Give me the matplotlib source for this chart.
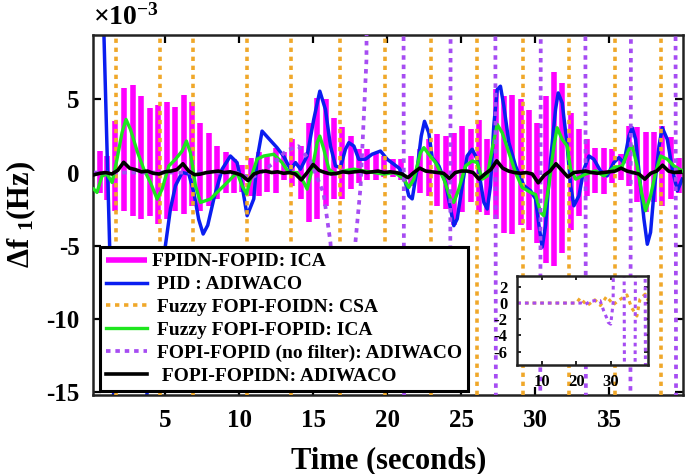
import numpy as np
import matplotlib
matplotlib.use("Agg")
import matplotlib.pyplot as plt
from matplotlib.ticker import FuncFormatter

plt.rcParams.update({
    "font.family": ["Liberation Serif", "DejaVu Serif"],
    "font.weight": "bold",
    "axes.labelweight": "bold",
    "mathtext.fontset": "custom",
    "mathtext.rm": "Liberation Serif:bold",
    "mathtext.it": "Liberation Serif:italic:bold",
    "mathtext.bf": "Liberation Serif:bold",
    "axes.unicode_minus": False,
})

SCALE = 1e-3  # values below are in units of 1e-3 Hz

# ---- FPIDN-FOPID: ICA (fast oscillation, drawn as bars: time, upper, lower) ----
mag_t = [0.58, 1.08, 1.64, 2.21, 2.81, 3.38, 3.96, 4.53, 5.13, 5.70,
         6.26, 6.82, 7.39, 7.95, 8.51, 9.08, 9.64, 10.20, 10.77, 11.33,
         11.90, 12.46, 13.02, 13.59, 14.15, 14.72, 15.28, 15.85, 16.41, 16.98,
         17.54, 18.11, 18.67, 19.24, 19.80, 20.37, 20.93, 21.59, 22.25, 22.81,
         23.38, 23.94, 24.50, 25.07, 25.63, 26.19, 26.76, 27.32, 27.88, 28.44,
         29.01, 29.57, 30.13, 30.70, 31.26, 31.82, 32.39, 32.95, 33.51, 34.07,
         34.64, 35.20, 35.77, 36.33, 36.89, 37.45, 38.02, 38.58, 39.14, 39.71]
mag_hi = [1.5, 1.1, 3.5, 5.8, 6.0, 5.2, 4.4, 4.6, 4.8, 4.5,
          5.3, 4.8, 3.4, 2.7, 1.8, 1.4, 0.9, 0.5, 1.0, 1.4,
          1.1, 1.7, 1.4, 2.3, 1.8, 3.4, 5.1, 5.0, 3.7, 3.1,
          2.5, 1.6, 1.6, 1.4, 1.1, 0.9, 0.9, 1.1, 1.6, 2.3,
          2.6, 2.5, 2.7, 3.2, 3.0, 3.6, 2.3, 5.7, 5.2, 5.3,
          5.0, 4.3, 3.4, 5.2, 6.9, 6.1, 4.1, 3.0, 2.3, 1.7,
          1.7, 1.6, 1.3, 3.2, 3.1, 2.8, 2.8, 3.2, 2.4, 1.0]
mag_lo = [-1.4, -1.9, -2.6, -2.6, -3.0, -3.2, -3.0, -3.5, -3.2, -2.6,
          -2.8, -2.3, -2.6, -2.3, -1.8, -1.4, -1.4, -1.3, -1.6, -1.6,
          -1.3, -1.4, -0.5, -0.9, -1.8, -3.4, -3.2, -2.3, -1.8, -1.8,
          -1.1, -0.7, -0.5, -0.5, -0.3, -0.3, -0.5, -0.9, -1.4, -1.6,
          -2.3, -2.5, -3.6, -2.7, -2.0, -2.7, -2.9, -3.2, -4.1, -4.2,
          -3.6, -3.9, -4.8, -6.2, -6.4, -5.5, -3.9, -3.0, -1.6, -1.4,
          -1.5, -0.7, -0.5, -0.9, -2.0, -2.7, -2.0, -2.3, -1.8, -1.4]

# ---- PID : ADIWACO ----
blue_t = [0.15, 0.8, 1.6, 3.3, 5.02, 5.36, 5.70, 6.15, 6.6, 6.94,
          7.27, 7.57, 7.88, 8.29, 8.85, 9.41, 9.86, 10.2, 10.54, 10.99,
          11.21, 11.55, 12.11, 12.56, 13.02, 13.47, 13.81, 14.14, 14.59, 15.04,
          15.45, 15.83, 16.17, 16.51, 16.84, 17.18, 17.41, 17.75, 18.08, 18.53,
          18.98, 19.55, 20.0, 20.45, 20.8, 21.12, 21.46, 21.69, 22.02, 22.3,
          22.52, 22.81, 23.04, 23.49, 23.94, 24.28, 24.5, 24.73, 25.07, 25.4,
          25.74, 26.08, 26.31, 26.53, 26.76, 26.98, 27.2, 27.43, 27.65, 27.88,
          28.22, 28.67, 29.24, 29.69, 30.02, 30.25, 30.47, 30.7, 31.04, 31.37,
          31.55, 31.82, 32.16, 32.39, 32.61, 32.95, 33.29, 33.63, 33.96, 34.41,
          34.86, 35.31, 35.65, 35.99, 36.33, 36.55, 36.78, 37.11, 37.34, 37.57,
          37.79, 38.02, 38.36, 38.58, 38.92, 39.26, 39.6, 39.93]
blue_v = [25, 12, -18, -19, -4.99, -2.49, -0.9, 0.0, -0.1, -1.36,
          -3.2, -4.2, -3.6, -1.8, 0.23, 1.13, 0.68, -0.9, -2.95, -1.8,
          0.9, 2.83, 2.2, 1.7, 1.1, 0.2, 0.68, 0.23, 1.13, 3.63,
          5.56, 4.31, 1.81, 0.45, 0.34, 1.59, 2.04, 1.81, 0.91, 0.91,
          1.25, 1.47, 0.91, 0.57, 0.3, -0.23, -1.59, -1.8, 0.23, 2.49,
          3.5, 2.72, 1.02, 0.45, -0.68, -2.49, -3.63, -3.17, -0.9, 1.13,
          1.59, 0.91, -0.68, -2.04, -2.49, -0.9, 3.18, 5.67, 5.9, 4.54,
          2.04, 0.45, -0.9, -1.25, -1.8, -3.6, -5.1, -3.6, 0.9, 4.31,
          5.44, 4.76, 1.81, -0.9, -2.27, -1.59, 0.23, 1.13, 0.91, 0.11,
          -0.23, 0.68, 1.02, 0.68, 2.49, 3.06, 2.27, -0.9, -3.17, -4.9,
          -4.08, -1.36, 1.81, 3.06, 2.27, 0.23, -1.25, -0.45]

# ---- Fuzzy FOPI-FOIDN: CSA (unstable, swings far past the axis limits) ----
orange_spike_t = [1.69, 4.64, 6.89, 10.56, 13.51, 16.80, 19.84, 22.93,
                  26.08, 29.19, 32.27, 35.36, 38.51]

# ---- Fuzzy FOPI-FOPID: ICA ----
green_t = [0.18, 0.4, 0.74, 1.08, 1.42, 1.75, 2.09, 2.36, 2.66, 3.11,
           3.56, 4.01, 4.46, 4.8, 5.25, 5.7, 6.15, 6.44, 6.71, 7.05,
           7.39, 8.06, 8.74, 9.3, 9.86, 10.2, 10.5, 10.77, 11.21, 11.66,
           12.34, 12.9, 13.35, 13.92, 14.37, 14.59, 14.93, 15.27, 15.45, 15.72,
           16.06, 16.51, 17.07, 17.75, 18.42, 19.1, 19.77, 20.45, 20.67, 21.12,
           21.46, 21.8, 22.25, 22.48, 22.81, 23.27, 23.83, 24.28, 24.5, 24.84,
           25.29, 25.74, 26.08, 26.42, 26.76, 27.09, 27.43, 27.77, 28.22, 28.67,
           29.12, 29.69, 30.02, 30.36, 30.58, 30.92, 31.26, 31.48, 31.82, 32.16,
           32.39, 32.73, 33.4, 34.07, 34.64, 35.31, 35.88, 36.33, 36.55, 36.89,
           37.18, 37.45, 37.79, 38.13, 38.47, 38.92, 39.37, 39.93]
green_v = [-1.13, -1.36, -0.23, -0.11, -0.68, 0.91, 2.72, 3.63, 2.95, 1.47,
           0.23, -0.68, -1.81, -1.13, 0.45, 0.91, 1.47, 2.15, 1.36, -0.9,
           -2.04, -1.81, -1.13, -0.57, 0.0, -0.9, -1.45, -0.45, 0.91, 1.13,
           1.25, 0.68, 0.0, 0.0, -0.68, -1.13, 0.23, 2.04, 2.49, 1.59,
           0.23, -0.11, 0.11, 0.23, 0.11, 0.0, -0.11, 0.0, -0.11, -0.45,
           -1.02, -0.45, 1.36, 1.7, 1.25, 0.68, -0.45, -1.81, -2.04, -1.13,
           0.45, 0.79, 0.68, -0.45, -0.23, 1.59, 3.29, 2.72, 1.36, 0.0,
           -1.02, -1.36, -1.5, -2.72, -2.95, -0.9, 1.81, 3.06, 2.27, 1.81,
           0.23, -0.45, -0.11, 0.11, -0.23, 0.34, 0.45, 1.59, 1.81, 0.45,
           -1.36, -2.61, -1.59, 0.0, 1.13, 0.91, 0.45, 0.11]

# ---- FOPI-FOPID (no filter): ADIWACO (growing oscillation, off-scale later) ----
purple_t = [0.2, 9.8, 10.8, 11.6, 12.4, 13.2, 14.0, 14.8, 15.7, 16.17,
            16.6, 17.4, 17.86, 18.2, 18.6, 18.7, 21.08, 21.16, 24.23, 24.31,
            27.28, 27.36, 30.32, 30.40, 33.36, 33.44, 36.41, 36.49, 39.45, 39.53]
purple_v = [0.0, 0.0, -0.4, 0.1, 0.7, 1.5, 1.8, 0.8, -1.4, -4.8,
            -12, -12, -4.7, -1.0, 7.7, 30, 30, -30, -30, 30,
            30, -30, -30, 30, 30, -30, -30, 30, 30, -30]

# ---- FOPI-FOPIDN: ADIWACO (small noisy response) ----
black_t = np.arange(100) * 0.4 + 0.2
black_v = [-0.15, -0.05, 0.0, -0.1, 0.15, 0.7, 0.3, 0.2, 0.05, 0.1,
           -0.05, -0.1, 0.05, 0.1, 0.2, 0.6, 0.1, -0.15, -0.1, 0.0,
           0.05, 0.1, 0.0, 0.05, -0.05, -0.2, -0.55, -0.1, 0.05, 0.1,
           0.0, 0.05, -0.05, 0.0, -0.1, -0.5, 0.0, 0.55, 0.15, 0.0,
           -0.1, -0.05, 0.05, 0.0, 0.05, 0.1, 0.0, 0.05, 0.1, 0.0,
           0.05, 0.0, -0.1, -0.35, 0.0, 0.3, 0.1, 0.05, 0.0, -0.05,
           -0.4, 0.0, 0.1, 0.1, 0.0, -0.45, -0.1, 0.2, 0.8, 0.3,
           0.1, 0.0, -0.05, 0.0, -0.1, -0.7, -0.2, 0.1, 0.6, 0.15,
           -0.3, 0.0, 0.05, 0.1, 0.0, -0.05, 0.0, 0.05, 0.1, 0.3,
           0.1, 0.0, -0.1, -0.45, -0.05, 0.1, 0.5, 0.1, 0.0, 0.05]

# ---- inset (whole response of the two unstable designs) ----
ins_or_t = [2.9, 20.0, 21.1, 23.2, 25.4, 27.0, 28.8, 30.8, 32.2, 34.7,
            36.1, 37.6, 38.5, 40.0, 40.9]
ins_or_v = [0.0, 0.0, 0.6, -0.3, 0.4, -0.3, 0.8, -0.2, 0.3, 1.0,
            -0.6, -1.6, 0.5, 1.1, 0.3]
ins_pu_t = [2.9, 21.5, 22.5, 24.0, 25.4, 26.9, 28.0, 28.8, 29.3, 30.0,
            30.7, 30.85, 33.85, 34.0, 37.05, 37.2, 39.95, 40.1]
ins_pu_v = [0.0, 0.0, -0.2, 0.2, 0.3, 0.3, -1.0, -1.8, -2.4, -2.6,
            0.0, 10, 10, -12, -12, 10, 10, -12]

labels = ["FPIDN-FOPID: ICA", " PID : ADIWACO", " Fuzzy FOPI-FOIDN: CSA",
          " Fuzzy FOPI-FOPID: ICA", " FOPI-FOPID (no filter): ADIWACO",
          "  FOPI-FOPIDN: ADIWACO"]
x_ticks = [5, 10, 15, 20, 25, 30, 35]
y_ticks = [-15, -10, -5, 0, 5]
ins_x_ticks = [10, 20, 30]
ins_y_ticks = [-6, -4, -2, 0, 2]

MAG = "#FF00FF"
BLUE = "#0A1EF0"
ORANGE = "#F0A82A"
GREEN = "#1EE61E"
PURPLE = "#A64CF2"
DOTS = (0, (1.2, 1.3))

fig = plt.figure(figsize=(6.85, 4.74), dpi=100)
ax = fig.add_axes([0.1362, 0.1667, 0.8613, 0.7595])

h_mag = ax.vlines(mag_t, np.array(mag_lo) * SCALE, np.array(mag_hi) * SCALE,
                  colors=MAG, linewidth=4.0, zorder=1)
h_blue, = ax.plot(blue_t, np.array(blue_v) * SCALE, color=BLUE, lw=2.5, zorder=2)
h_or = None
for t in orange_spike_t:
    h_or = ax.axvline(t, color=ORANGE, lw=2.6, ls=DOTS, zorder=3)
h_green, = ax.plot(green_t, np.array(green_v) * SCALE, color=GREEN, lw=2.4, zorder=4)
h_pu, = ax.plot(purple_t, np.array(purple_v) * SCALE, color=PURPLE, lw=2.7,
                ls=DOTS, zorder=5)
h_blk, = ax.plot(black_t, np.array(black_v) * SCALE, color="black", lw=2.6, zorder=6)

ax.set_xlim(0.15, 40.0)
ax.set_ylim(-15.2 * SCALE, 9.4 * SCALE)
ax.set_xticks(x_ticks)
ax.set_yticks(np.array(y_ticks) * SCALE)
ax.yaxis.set_major_formatter(FuncFormatter(lambda v, p: f"{v / SCALE:.0f}"))
ax.text(0.0, 1.012, r"$\times$10$^{-3}$", transform=ax.transAxes, fontsize=20,
        ha="left", va="bottom")
ax.tick_params(direction="in", length=6, width=1.6, top=True, right=True,
               labelsize=18, pad=10)
for s in ax.spines.values():
    s.set_linewidth(1.8)
    s.set_color("#222222")

ax.set_xlabel("Time (seconds)", fontsize=22, labelpad=10)
ax.set_ylabel("Δf $_1$(Hz)", fontsize=22, labelpad=6)

leg = ax.legend([h_mag, h_blue, h_or, h_green, h_pu, h_blk], labels,
                loc="lower left", bbox_to_anchor=(0.0114, 0.012), borderaxespad=0,
                fontsize=14, handlelength=2.1, handletextpad=0.25,
                labelspacing=0.27, borderpad=0.3, frameon=True, fancybox=False,
                framealpha=1, edgecolor="black")
leg.get_frame().set_linewidth(2.2)
leg.set_zorder(10)

axins = fig.add_axes([0.7552, 0.2306, 0.1912, 0.1865])
axins.plot(ins_or_t, ins_or_v, color=ORANGE, lw=2.2, ls=DOTS)
axins.plot(ins_pu_t, ins_pu_v, color=PURPLE, lw=2.2, ls=DOTS)
axins.set_xlim(2.9, 40.9)
axins.set_ylim(-7.6, 3.3)
axins.set_xticks(ins_x_ticks)
axins.set_yticks(ins_y_ticks)
axins.tick_params(direction="in", length=3, width=1.2, top=True, right=True,
                  labelsize=12, pad=7)
for s in axins.spines.values():
    s.set_linewidth(1.8)
    s.set_color("#222222")

fig.savefig("out.png", dpi=100)
